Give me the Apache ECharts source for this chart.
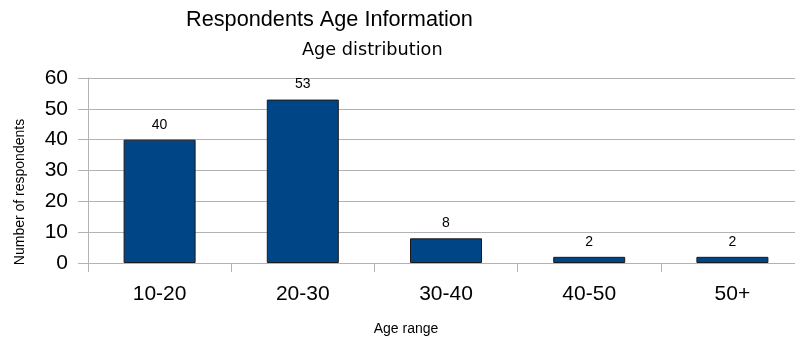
<!DOCTYPE html>
<html>
<head>
<meta charset="utf-8">
<script src="https://cdn.jsdelivr.net/npm/echarts@6/dist/echarts.min.js"></script>
<style>
  html, body { margin: 0; padding: 0; background: #ffffff; }
  #chart { width: 795px; height: 340px; }
</style>
</head>
<body>
<div id="chart"></div>
<script>
// Age groups and respondent counts
const ageRanges = ['10-20', '20-30', '30-40', '40-50', '50+'];
const respondents = [40, 53, 8, 2, 2];
const yTicks = { min: 0, max: 60, step: 10 };

const FONT = '"Liberation Sans", Arial, sans-serif';
const GRID_GRAY = '#b3b3b3';

const chart = echarts.init(document.getElementById('chart'), null, { renderer: 'canvas' });

chart.setOption({
  animation: false,
  backgroundColor: '#ffffff',
  title: [
    {
      text: 'Respondents Age Information',
      left: 181, top: 4,
      textStyle: { fontFamily: FONT, fontSize: 21.7, fontWeight: 'normal', color: '#000' }
    },
    {
      text: 'Age distribution',
      left: 297, top: 36,
      textStyle: { fontFamily: '"DejaVu Sans", sans-serif', fontSize: 17.7, fontWeight: 'normal', color: '#000' }
    }
  ],
  // the plot runs slightly past the right edge, so keep the grid box fixed
  grid: { left: 88, top: 78, right: -9, bottom: 77, containLabel: false, outerBoundsMode: 'none' },
  xAxis: {
    type: 'category',
    data: ageRanges,
    boundaryGap: true,
    name: 'Age range',
    nameLocation: 'middle',
    nameGap: 59,
    nameTextStyle: { fontFamily: FONT, fontSize: 14, color: '#000', padding: [0, 80, 0, 0] },
    axisLine: { show: true, lineStyle: { color: GRID_GRAY, width: 1 } },
    axisTick: { show: true, length: 9, lineStyle: { color: GRID_GRAY } },
    axisLabel: { fontFamily: FONT, fontSize: 21, color: '#000', margin: 21 },
    splitLine: { show: false }
  },
  yAxis: {
    type: 'value',
    min: yTicks.min,
    max: yTicks.max,
    interval: yTicks.step,
    name: 'Number of respondents',
    nameLocation: 'middle',
    nameGap: 61,
    nameRotate: 90,
    nameTextStyle: { fontFamily: FONT, fontSize: 14, color: '#000', padding: [0, 43, 0, 0] },
    axisLine: { show: true, lineStyle: { color: GRID_GRAY, width: 1 } },
    axisTick: { show: true, length: 10, lineStyle: { color: GRID_GRAY } },
    axisLabel: { fontFamily: FONT, fontSize: 21, color: '#000', margin: 20 },
    splitLine: { show: true, lineStyle: { color: GRID_GRAY, width: 1 } }
  },
  series: [
    {
      type: 'bar',
      data: respondents,
      barWidth: 72,
      itemStyle: { color: '#004586', borderColor: '#1a1a1a', borderWidth: 1 },
      label: {
        show: true,
        position: 'top',
        distance: 8,
        fontFamily: FONT,
        fontSize: 14,
        color: '#000'
      }
    }
  ]
});
</script>
</body>
</html>
